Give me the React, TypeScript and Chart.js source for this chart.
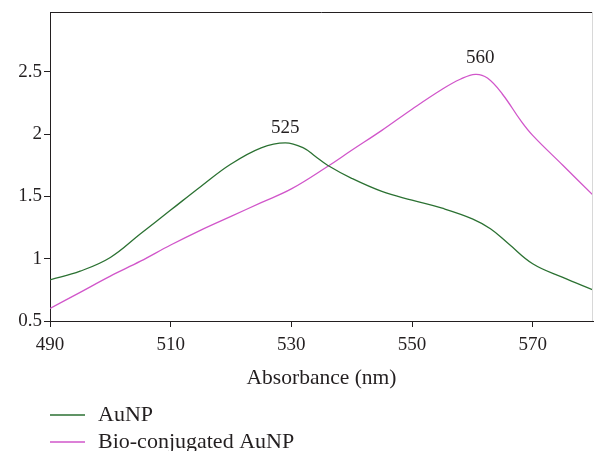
import React, { useEffect, useRef } from "react";
import { Chart, registerables } from "chart.js";

Chart.register(...registerables);

const wavelengthsAuNP = [490, 495, 500, 505, 510, 515, 520, 525, 529, 532, 534, 536, 540, 545, 550, 555, 560, 563, 566, 570, 575, 580];
const valuesAuNP = [0.83, 0.9, 1.01, 1.2, 1.39, 1.58, 1.76, 1.89, 1.93, 1.89, 1.82, 1.75, 1.645, 1.54, 1.47, 1.405, 1.32, 1.24, 1.12, 0.96, 0.85, 0.75];

const wavelengthsBio = [490, 495, 500, 505, 510, 515, 520, 525, 530, 536, 540, 545, 550, 555, 558, 560.5, 562.5, 565, 568, 570, 575, 580];
const valuesBio = [0.6, 0.73, 0.86, 0.98, 1.11, 1.23, 1.34, 1.45, 1.56, 1.74, 1.87, 2.03, 2.2, 2.36, 2.44, 2.48, 2.45, 2.32, 2.11, 1.99, 1.75, 1.51];

const seriesLabels = ["AuNP", "Bio-conjugated AuNP"];
const seriesColors = ["#2b7132", "#d156ca"];

const xTickValues = [490, 510, 530, 550, 570];
const yTickValues = [0.5, 1, 1.5, 2, 2.5];

const peakLabelText = ["525", "560"];
const peakLabelX = [529, 561.3];
const peakLabelY = [2.05, 2.61];

const TEXT = "#231f20";
const FONT = "'Liberation Serif', 'Times New Roman', serif";

export default function App() {
  const ref = useRef<HTMLCanvasElement | null>(null);

  useEffect(() => {
    if (!ref.current) return;
    const toPts = (xs: number[], ys: number[]) => xs.map((x, i) => ({ x, y: ys[i] }));

    const framePlugin = {
      id: "frame",
      afterDraw(chart: any) {
        const { ctx, chartArea } = chart;
        ctx.save();
        ctx.strokeStyle = TEXT;
        ctx.lineWidth = 1;
        ctx.beginPath();
        ctx.moveTo(chartArea.left, chartArea.top + 0.5);
        ctx.lineTo(chartArea.right, chartArea.top + 0.5);
        ctx.stroke();
        ctx.strokeStyle = "#d8d8d8";
        ctx.beginPath();
        ctx.moveTo(chartArea.right - 0.5, chartArea.top);
        ctx.lineTo(chartArea.right - 0.5, chartArea.bottom);
        ctx.stroke();
        // peak labels
        const xs = chart.scales.x;
        const ys = chart.scales.y;
        ctx.fillStyle = TEXT;
        ctx.font = `19px ${FONT}`;
        ctx.textAlign = "center";
        ctx.textBaseline = "middle";
        peakLabelText.forEach((t, i) => {
          ctx.fillText(t, xs.getPixelForValue(peakLabelX[i]), ys.getPixelForValue(peakLabelY[i]));
        });
        // legend
        const ds = chart.data.datasets;
        ds.forEach((d: any, i: number) => {
          const y = 415 + i * 27;
          ctx.strokeStyle = d.borderColor;
          ctx.lineWidth = 1.3;
          ctx.beginPath();
          ctx.moveTo(50, y);
          ctx.lineTo(85, y);
          ctx.stroke();
          ctx.fillStyle = TEXT;
          ctx.font = `22px ${FONT}`;
          ctx.textAlign = "left";
          ctx.textBaseline = "middle";
          ctx.fillText(d.label, 98, y);
        });
        ctx.restore();
      },
    };

    const chart = new Chart(ref.current, {
      type: "line",
      data: {
        datasets: [
          {
            label: seriesLabels[0],
            data: toPts(wavelengthsAuNP, valuesAuNP),
            borderColor: seriesColors[0],
            borderWidth: 1.3,
            pointRadius: 0,
            tension: 0.4,
            fill: false,
          },
          {
            label: seriesLabels[1],
            data: toPts(wavelengthsBio, valuesBio),
            borderColor: seriesColors[1],
            borderWidth: 1.3,
            pointRadius: 0,
            tension: 0.4,
            fill: false,
          },
        ],
      },
      options: {
        responsive: false,
        animation: false,
        layout: { padding: { top: 12, right: 1, left: 0, bottom: 0 } },
        plugins: { legend: { display: false }, tooltip: { enabled: false } },
        scales: {
          x: {
            type: "linear",
            min: 490,
            max: 580,
            afterBuildTicks: (s: any) => {
              s.ticks = xTickValues.map((v) => ({ value: v }));
            },
            afterFit: (s: any) => {
              s.height = 130;
              s.paddingLeft = 0;
              s.paddingRight = 0;
            },
            grid: { display: true, drawOnChartArea: false, drawTicks: true, tickLength: 6, color: TEXT },
            border: { display: true, color: TEXT, width: 1 },
            ticks: {
              color: TEXT,
              font: { family: FONT, size: 19 },
              padding: 7,
              maxRotation: 0,
              autoSkip: false,
              callback: (v: any) => String(v),
            },
            title: {
              display: true,
              text: "Absorbance (nm)",
              color: TEXT,
              font: { family: FONT, size: 21.5 },
              padding: { top: 0, bottom: 60 },
            },
          },
          y: {
            type: "linear",
            min: 0.5,
            max: 2.98,
            afterBuildTicks: (s: any) => {
              s.ticks = yTickValues.map((v) => ({ value: v }));
            },
            afterFit: (s: any) => {
              s.width = 50;
              s.paddingTop = 0;
              s.paddingBottom = 0;
            },
            grid: { display: true, drawOnChartArea: false, drawTicks: true, tickLength: 6, color: TEXT },
            border: { display: true, color: TEXT, width: 1 },
            ticks: {
              color: TEXT,
              font: { family: FONT, size: 19 },
              padding: 2,
              autoSkip: false,
              callback: (v: any) => String(v),
            },
          },
        },
      },
      plugins: [framePlugin],
    } as any);
    return () => chart.destroy();
  }, []);

  return (
    <div style={{ position: "absolute", left: 0, top: 0, width: 594, height: 451, background: "#fff" }}>
      <canvas ref={ref} width={594} height={451} style={{ width: 594, height: 451, display: "block" }} />
    </div>
  );
}
